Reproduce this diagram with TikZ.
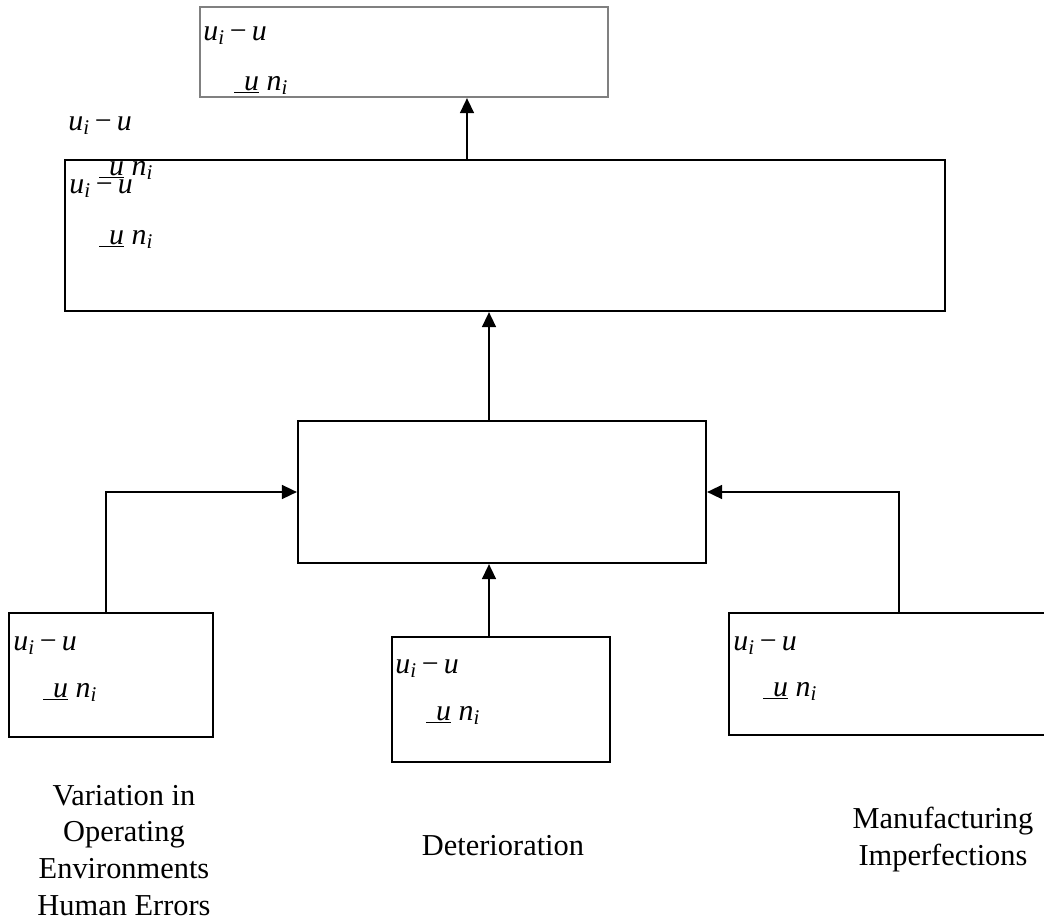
\documentclass[tikz,border=0pt]{standalone}
\usepackage{fontspec}
\setmainfont{Liberation Serif}
\usetikzlibrary{arrows.meta}
\newcommand{\udiff}{\textit{u}\textsubscript{\textit{i}}\,−\,\textit{u}}
\newcommand{\ubar}{\underline{\hspace{0.33em}\textit{u}}\ \textit{n}\textsubscript{\textit{i}}}

\begin{document}
\begin{tikzpicture}[x=0.02cm,y=-0.02cm,
  box/.style={draw,line width=1.3pt,inner sep=0pt},
  eqn/.style={anchor=base west,inner sep=0pt,font=\fontsize{17}{20.8}\selectfont},
  caption/.style={anchor=base,align=center,inner sep=0pt,font=\fontsize{17.3}{20.8}\selectfont},
  arr/.style={line width=0.9pt,-{Triangle[length=0.3cm,width=0.28cm]}}]
\useasboundingbox (0,0) rectangle (1044,923);

\node[box,draw=black!50,minimum width=8.16cm,minimum height=1.8cm] (result) at (404,52) {};
\node[box,minimum width=17.6cm,minimum height=3.02cm] (system) at (505,235.5) {};
\node[box,minimum width=8.16cm,minimum height=2.84cm] (noise) at (502,492) {};
\node[box,minimum width=4.08cm,minimum height=2.48cm] (envbox) at (111,675) {};
\node[box,minimum width=4.36cm,minimum height=2.5cm] (detbox) at (501,699.5) {};
\node[box,minimum width=6.8cm,minimum height=2.44cm] (manbox) at (899,674) {};

\node[eqn] (resultA) at (203,40) {\udiff};
\node[eqn] (resultB) at (234,90) {\ubar};
\node[eqn] (systemA) at (68,130) {\udiff};
\node[eqn] (systemB) at (99,175) {\ubar};
\node[eqn] (systemC) at (69,193) {\udiff};
\node[eqn] (systemD) at (99,244) {\ubar};
\node[eqn] (envA) at (13,650) {\udiff};
\node[eqn] (envB) at (43,697) {\ubar};
\node[eqn] (detA) at (395,673) {\udiff};
\node[eqn] (detB) at (426,720) {\ubar};
\node[eqn] (manA) at (733,650) {\udiff};
\node[eqn] (manB) at (763,696) {\ubar};

\node[caption] (envlabel) at (124,915) {Variation in\\Operating\\Environments\\Human Errors};
\node[caption] (detlabel) at (503,855) {Deterioration};
\node[caption] (manlabel) at (943,865) {Manufacturing\\Imperfections};

\draw[arr] ([xshift=-0.76cm]system.north) -- ([xshift=1.26cm]result.south);
\draw[arr] ([xshift=-0.26cm]noise.north) -- ([xshift=-0.32cm]system.south);
\draw[arr] ([xshift=-0.24cm]detbox.north) -- ([xshift=-0.26cm]noise.south);
\draw[arr] ([xshift=-0.1cm]envbox.north) |- (noise.west);
\draw[arr] (manbox.north) |- (noise.east);
\end{tikzpicture}
\end{document}
